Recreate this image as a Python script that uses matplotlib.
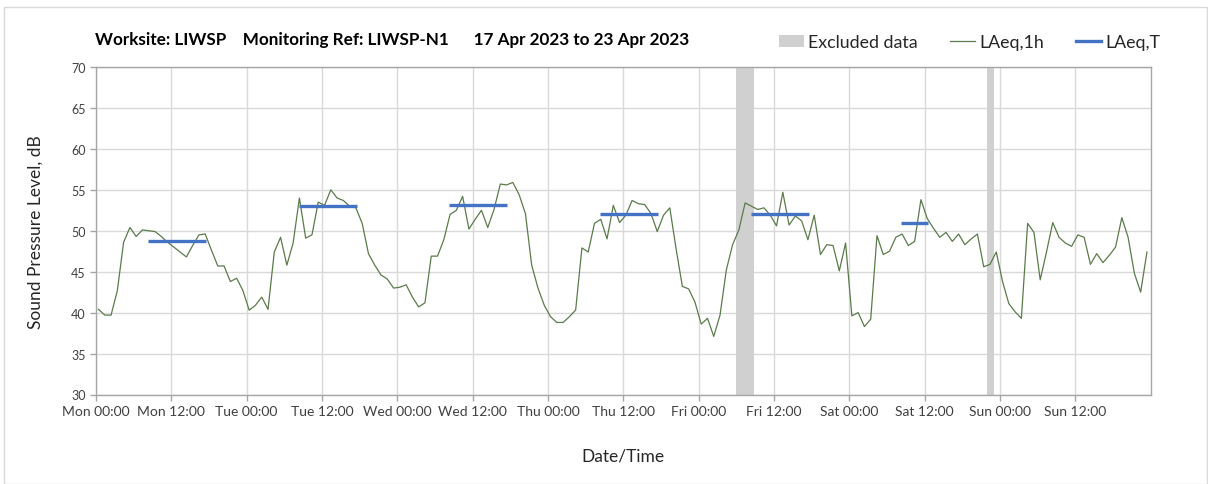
import matplotlib
matplotlib.use("Agg")
import matplotlib.pyplot as plt
from matplotlib.patches import Patch, Rectangle
from matplotlib.lines import Line2D
import numpy as np

plt.rcParams['font.family'] = ['Lato', 'DejaVu Sans']

# Hourly LAeq,1h values, Mon 00:00 .. Sun 23:00
laeq_1h = [
    40.4, 39.7, 39.7, 42.7, 48.6, 50.4, 49.3, 50.1, 50.0, 49.9, 49.3, 48.6,
    48.0, 47.4, 46.8, 48.2, 49.5, 49.6, 47.6, 45.7, 45.7, 43.8, 44.2, 42.7,
    40.3, 40.9, 41.9, 40.4, 47.4, 49.2, 45.8, 48.5, 54.0, 49.1, 49.5, 53.5,
    53.1, 55.0, 54.0, 53.7, 53.0, 52.8, 50.9, 47.2, 45.8, 44.6, 44.1, 43.0,
    43.1, 43.4, 41.9, 40.7, 41.2, 46.9, 46.9, 48.9, 52.0, 52.5, 54.2, 50.2,
    51.4, 52.5, 50.4, 52.6, 55.7, 55.6, 55.9, 54.4, 52.1, 45.8, 43.0, 40.9,
    39.5, 38.8, 38.8, 39.5, 40.3, 47.9, 47.4, 50.9, 51.4, 49.0, 53.1, 51.0,
    51.9, 53.7, 53.3, 53.2, 52.1, 49.9, 51.9, 52.8, 47.8, 43.2, 42.9, 41.3,
    38.6, 39.3, 37.1, 39.7, 45.2, 48.3, 50.1, 53.4, 53.0, 52.6, 52.8, 51.9,
    50.6, 54.7, 50.7, 51.8, 51.2, 48.9, 51.9, 47.1, 48.3, 48.2, 45.1, 48.5,
    39.6, 40.0, 38.3, 39.2, 49.4, 47.1, 47.5, 49.2, 49.6, 48.2, 48.7, 53.8,
    51.5, 50.3, 49.2, 49.8, 48.7, 49.6, 48.3, 49.0, 49.6, 45.6, 45.9, 47.4,
    43.8, 41.1, 40.1, 39.3, 50.9, 49.8, 44.0, 47.4, 51.0, 49.2, 48.5, 48.1,
    49.5, 49.2, 45.9, 47.2, 46.1, 47.0, 48.0, 51.6, 49.2, 44.8, 42.5, 47.4,
]

# LAeq,T daytime periods (start hour, end hour, level)
laeq_t_start = [8, 32, 56, 80, 104, 128]
laeq_t_end = [17, 41, 65, 89, 113, 132]
laeq_t_value = [48.8, 53.0, 53.1, 52.1, 52.1, 50.9]

# Excluded data periods (hours from Mon 00:00)
excl_start = [102.0, 141.9]
excl_end = [104.8, 143.0]

tick_hours = list(range(0, 168, 12))
tick_labels = ["Mon 00:00", "Mon 12:00", "Tue 00:00", "Tue 12:00", "Wed 00:00",
               "Wed 12:00", "Thu 00:00", "Thu 12:00", "Fri 00:00", "Fri 12:00",
               "Sat 00:00", "Sat 12:00", "Sun 00:00", "Sun 12:00"]

OFFSET = 0.4

fig = plt.figure(figsize=(12.08, 4.85), dpi=100)
fig.patches.append(Rectangle((4/1208, 0), 1 - 4/1208 - 0.0005, 1 - 8/485,
                             transform=fig.transFigure, fill=False,
                             edgecolor='#d9d9d9', linewidth=1.0))
ax = fig.add_axes([96/1208, 1 - 395.5/485, (1150.7 - 96)/1208, (395.5 - 68)/485])

for s, e in zip(excl_start, excl_end):
    ax.axvspan(s, e, color='#d0d0d0', lw=0, zorder=1)

x = np.arange(len(laeq_1h)) + OFFSET
ax.plot(x, laeq_1h, color='#5b7b4b', lw=0.9, zorder=3)

for s, e, v in zip(laeq_t_start, laeq_t_end, laeq_t_value):
    ax.plot([s + OFFSET - 0.1, e + OFFSET + 0.1], [v, v], color='#4472c4', lw=2.4,
            solid_capstyle='butt', zorder=4)

ax.set_xlim(0, 168)
ax.set_ylim(30, 70)
ax.set_xticks(tick_hours)
ax.set_xticklabels(tick_labels)
ax.set_yticks(range(30, 71, 5))
ax.grid(True, color='#d9d9d9', lw=1.0, zorder=0)
ax.set_axisbelow(True)
for sp in ax.spines.values():
    sp.set_color('#a6a6a6')
    sp.set_linewidth(1.0)
ax.tick_params(axis='both', colors='#a6a6a6', labelcolor='#404040', labelsize=9,
               length=4, width=1.0, direction='out')
ax.tick_params(axis='x', labelsize=10)

ax.set_ylabel("Sound Pressure Level, dB", fontsize=12.5, color='#262626', labelpad=20)
ax.set_xlabel("Date/Time", fontsize=12.5, color='#262626', labelpad=22)

fig.text(95/1208, 1 - 40/485,
         "Worksite: LIWSP    Monitoring Ref: LIWSP-N1      17 Apr 2023 to 23 Apr 2023",
         fontsize=12.3, fontweight='bold', color='#000000', va='center', ha='left')

handles = [Patch(facecolor='#d0d0d0', edgecolor='none', label='Excluded data'),
           Line2D([], [], color='#5b7b4b', lw=0.9, label='LAeq,1h'),
           Line2D([], [], color='#4472c4', lw=2.4, label='LAeq,T')]
fig.legend(handles=handles, loc='center right', bbox_to_anchor=(1176/1208, 1 - 43/485),
           ncol=3, frameon=False, fontsize=12.8, handlelength=1.45, handleheight=0.7,
           columnspacing=1.8, handletextpad=0.2, labelcolor='#262626')

fig.savefig("out.png", dpi=100)
